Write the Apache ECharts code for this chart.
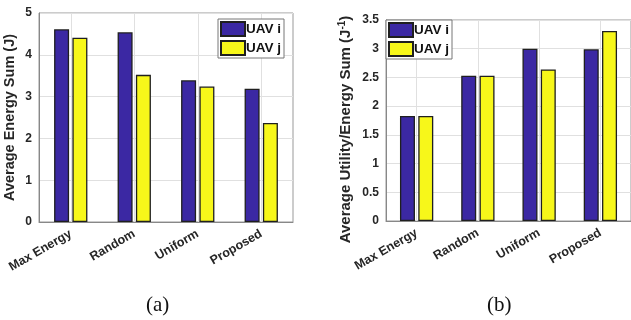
<!DOCTYPE html>
<html><head><meta charset="utf-8">
<script src="https://cdn.jsdelivr.net/npm/echarts@6/dist/echarts.min.js"></script>
<style>html,body{margin:0;padding:0;background:#fff}#c{width:631px;height:320px}</style>
</head><body><div id="c"></div>
<script>
const categories = ['Max Energy', 'Random', 'Uniform', 'Proposed'];
const seriesNames = ['UAV i', 'UAV j'];
const energyI = [4.61, 4.54, 3.39, 3.19];
const energyJ = [4.41, 3.52, 3.24, 2.37];
const utilityI = [1.83, 2.53, 3.00, 2.99];
const utilityJ = [1.83, 2.53, 2.64, 3.31];
const energyTicks = {min: 0, max: 5, interval: 1};
const utilityTicks = {min: 0, max: 3.5, interval: 0.5};
const captions = ['(a)', '(b)'];

const BLUE = '#3b28a3', YELLOW = '#f7f71a', EDGE = '#1f1f1f';
const FONT = 'Liberation Sans';
const GRIDC = '#e0e0e0';
const chart = echarts.init(document.getElementById('c'));

// hidden half-step value axis: odd lines fall on category centres
function gridAxis(idx) {
  return {
    type: 'value', gridIndex: idx, position: 'top',
    min: 0, max: categories.length * 2, interval: 1,
    axisLine: {show: false}, axisTick: {show: false}, axisLabel: {show: false},
    splitLine: {show: true, showMinLine: true, showMaxLine: true,
      lineStyle: {color: ['rgba(0,0,0,0)', GRIDC], width: 1}}
  };
}
function bar(name, data, idx, color) {
  return {
    name, type: 'bar', xAxisIndex: idx, yAxisIndex: idx, data,
    barWidth: 15, barGap: '22%', z: 3,
    itemStyle: {color, borderColor: EDGE, borderWidth: 1.3},
    animation: false
  };
}
function xAx(idx) {
  return {
    type: 'category', gridIndex: idx, data: categories, position: 'bottom',
    axisLine: {lineStyle: {color: '#888'}},
    axisTick: {show: false},
    splitLine: {show: false},
    axisLabel: {rotate: 30, fontFamily: FONT, fontWeight: 'bold', fontSize: 12.5, color: '#262626', margin: 11, interval: 0}
  };
}
function yAx(idx, t, name, gap, textStyle) {
  return Object.assign({
    type: 'value', gridIndex: idx, name,
    nameLocation: 'middle', nameGap: gap, nameRotate: 90,
    nameTextStyle: textStyle,
    axisLine: {show: true, lineStyle: {color: '#888'}},
    axisTick: {show: false},
    splitLine: {lineStyle: {color: GRIDC}},
    axisLabel: {fontFamily: FONT, fontWeight: 'bold', fontSize: 12, color: '#262626', margin: 7}
  }, t);
}
function legend(left, top) {
  return {
    data: seriesNames, orient: 'vertical', left, top,
    itemWidth: 24, itemHeight: 14, itemGap: 3,
    padding: [2, 3, 2, 2],
    borderColor: '#777', borderWidth: 1, backgroundColor: '#fff',
    textStyle: {fontFamily: FONT, fontWeight: 'bold', fontSize: 13.5, color: '#111', padding: [0, 0, 0, -4]},
    icon: 'rect', selectedMode: false
  };
}
const nameFont = {fontFamily: FONT, fontWeight: 'bold', fontSize: 14.5, color: '#262626'};
const leftNameStyle = Object.assign({}, nameFont);
const rightNameStyle = Object.assign({}, nameFont, {
  fontSize: 15,
  padding: [0, 18, 0, 0],
  rich: {
    a: Object.assign({}, nameFont, {fontSize: 15}),
    s: {fontFamily: FONT, fontWeight: 'bold', fontSize: 10, color: '#262626', verticalAlign: 'top', padding: [0, 0, 7, 0]}
  }
});

chart.setOption({
  animation: false,
  grid: [
    {left: 39, top: 13, right: 338, bottom: 98, show: true, borderColor: '#999', borderWidth: 1},
    {left: 386, top: 20, right: -6, bottom: 99, show: true, borderColor: '#999', borderWidth: 1}
  ],
  xAxis: [xAx(0), xAx(1), gridAxis(0), gridAxis(1)],
  yAxis: [
    yAx(0, energyTicks, 'Average Energy Sum (J)', 22, leftNameStyle),
    yAx(1, utilityTicks, '{a|Average Utility/Energy Sum (J}{s|-1}{a|)}', 32, rightNameStyle)
  ],
  legend: [legend(218, 19), legend(386, 20)],
  series: [
    {type: 'scatter', xAxisIndex: 2, yAxisIndex: 0, data: [], silent: true},
    {type: 'scatter', xAxisIndex: 3, yAxisIndex: 1, data: [], silent: true},
    bar(seriesNames[0], energyI, 0, BLUE),
    bar(seriesNames[1], energyJ, 0, YELLOW),
    bar(seriesNames[0], utilityI, 1, BLUE),
    bar(seriesNames[1], utilityJ, 1, YELLOW)
  ],
  graphic: [
    {type: 'text', left: 146, top: 295, style: {text: captions[0], font: '21px "Liberation Serif"', fill: '#111'}},
    {type: 'text', left: 487, top: 295, style: {text: captions[1], font: '21px "Liberation Serif"', fill: '#111'}}
  ]
});
</script></body></html>
